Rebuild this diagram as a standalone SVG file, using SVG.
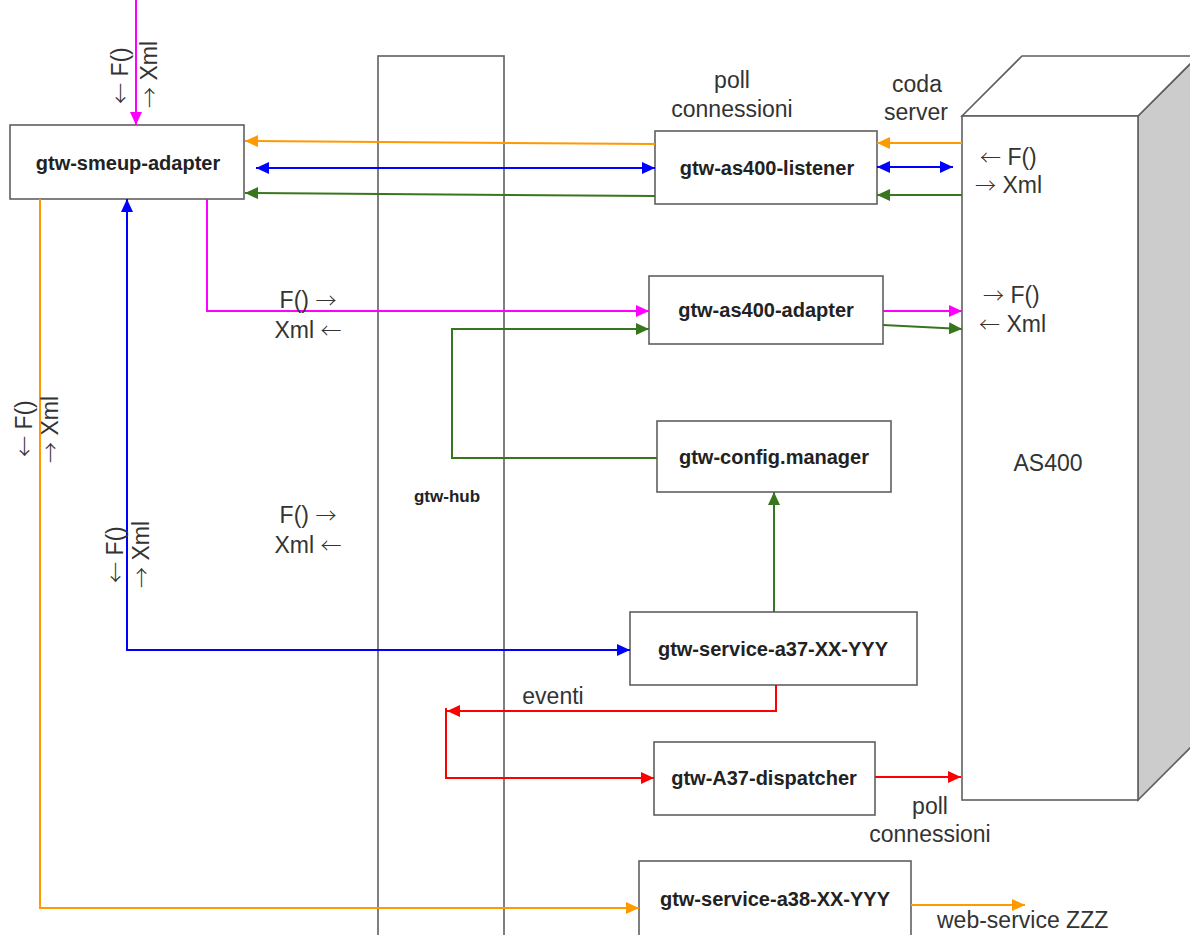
<svg xmlns="http://www.w3.org/2000/svg" width="1190" height="935" viewBox="0 0 1190 935">
<style>
.box{fill:#fff;stroke:#5f5f5f;stroke-width:1.6}
.nl{font-family:"Liberation Sans",Arial,sans-serif;font-weight:bold;font-size:20px;fill:#222;text-anchor:middle}
.lb{font-family:"Liberation Sans",Arial,sans-serif;font-size:23px;fill:#333}
.ar{font-family:"Noto Sans CJK SC","DejaVu Sans",sans-serif;font-weight:300;font-size:21px}
.c{fill:none;stroke-width:2}
.m{stroke:#ff00ff}.o{stroke:#ff9900}.b{stroke:#0000ff}.g{stroke:#38761d}.r{stroke:#ff0000}
</style>
<defs>
<marker id="am" markerUnits="userSpaceOnUse" markerWidth="14" markerHeight="12" refX="13" refY="6" orient="auto-start-reverse"><path d="M0,0 L13,6 L0,12 z" fill="#ff00ff"/></marker>
<marker id="ao" markerUnits="userSpaceOnUse" markerWidth="14" markerHeight="12" refX="13" refY="6" orient="auto-start-reverse"><path d="M0,0 L13,6 L0,12 z" fill="#ff9900"/></marker>
<marker id="ab" markerUnits="userSpaceOnUse" markerWidth="14" markerHeight="12" refX="13" refY="6" orient="auto-start-reverse"><path d="M0,0 L13,6 L0,12 z" fill="#0000ff"/></marker>
<marker id="ag" markerUnits="userSpaceOnUse" markerWidth="14" markerHeight="12" refX="13" refY="6" orient="auto-start-reverse"><path d="M0,0 L13,6 L0,12 z" fill="#38761d"/></marker>
<marker id="ar" markerUnits="userSpaceOnUse" markerWidth="14" markerHeight="12" refX="13" refY="6" orient="auto-start-reverse"><path d="M0,0 L13,6 L0,12 z" fill="#ff0000"/></marker>
</defs>
<rect width="1190" height="935" fill="#fff"/>

<g id="gtw-hub">
<rect class="box" x="378" y="56" width="126" height="900"/>
<text class="nl" x="447" y="502" style="font-size:17px">gtw-hub</text>
</g>

<g id="as400">
<polygon points="1138,116 1198,56 1198,740 1138,800" fill="#cccccc" stroke="#5f5f5f" stroke-width="1.6"/>
<polygon points="962,116 1022,56 1198,56 1138,116" fill="#fff" stroke="#5f5f5f" stroke-width="1.6"/>
<rect class="box" x="962" y="116" width="176" height="684"/>
<text class="lb" x="1048" y="471" text-anchor="middle">AS400</text>
</g>

<g id="gtw-smeup-adapter">
<rect class="box" x="10" y="125" width="234" height="74"/>
<text class="nl" x="128" y="170">gtw-smeup-adapter</text>
</g>
<g id="gtw-as400-listener">
<rect class="box" x="655" y="131" width="222" height="73"/>
<text class="nl" x="767" y="175">gtw-as400-listener</text>
</g>
<g id="gtw-as400-adapter">
<rect class="box" x="649" y="276" width="234" height="68"/>
<text class="nl" x="766" y="317">gtw-as400-adapter</text>
</g>
<g id="gtw-config-manager">
<rect class="box" x="657" y="421" width="234" height="71"/>
<text class="nl" x="774" y="464">gtw-config.manager</text>
</g>
<g id="gtw-service-a37">
<rect class="box" x="630" y="612" width="287" height="73"/>
<text class="nl" x="773" y="656">gtw-service-a37-XX-YYY</text>
</g>
<g id="gtw-A37-dispatcher">
<rect class="box" x="654" y="742" width="221" height="73"/>
<text class="nl" x="764" y="785">gtw-A37-dispatcher</text>
</g>
<g id="gtw-service-a38">
<rect class="box" x="639" y="861" width="272" height="90"/>
<text class="nl" x="775" y="906">gtw-service-a38-XX-YYY</text>
</g>

<g id="connectors">
<path class="c m" d="M136,0 V125" marker-end="url(#am)"/>
<path class="c m" d="M207,199 V311 H649" marker-end="url(#am)"/>
<path class="c m" d="M883,311 H962" marker-end="url(#am)"/>

<path class="c o" d="M655,144 L245,141" marker-end="url(#ao)"/>
<path class="c o" d="M962,143 H877" marker-end="url(#ao)"/>
<path class="c o" d="M40,199 V908 H639" marker-end="url(#ao)"/>
<path class="c o" d="M911,905 H1025" marker-end="url(#ao)"/>

<path class="c b" d="M256,168 H655" marker-start="url(#ab)" marker-end="url(#ab)"/>
<path class="c b" d="M877,167 H953" marker-start="url(#ab)" marker-end="url(#ab)"/>
<path class="c b" d="M127,199 V650 H630" marker-start="url(#ab)" marker-end="url(#ab)"/>

<path class="c g" d="M655,196 L245,193" marker-end="url(#ag)"/>
<path class="c g" d="M962,195 H877" marker-end="url(#ag)"/>
<path class="c g" d="M657,458 H452 V329 H649" marker-end="url(#ag)"/>
<path class="c g" d="M883,325 L962,329" marker-end="url(#ag)"/>
<path class="c g" d="M774,612 V492" marker-end="url(#ag)"/>

<path class="c r" d="M776,685 V711 H447" marker-end="url(#ar)"/>
<path class="c r" d="M446,708 V778 H654" marker-end="url(#ar)"/>
<path class="c r" d="M875,777 H961" marker-end="url(#ar)"/>
</g>

<g id="labels">
<text class="lb" x="732" y="88" text-anchor="middle">poll</text>
<text class="lb" x="732" y="117" text-anchor="middle">connessioni</text>
<text class="lb" x="917" y="92" text-anchor="middle">coda</text>
<text class="lb" x="916" y="120" text-anchor="middle">server</text>
<text class="lb" x="980" y="165"><tspan class="ar">←</tspan> F()</text>
<text class="lb" x="975" y="193"><tspan class="ar">→</tspan> Xml</text>
<text class="lb" x="983" y="303"><tspan class="ar">→</tspan> F()</text>
<text class="lb" x="979" y="332"><tspan class="ar">←</tspan> Xml</text>
<text class="lb" x="308" y="308" text-anchor="middle">F() <tspan class="ar">→</tspan></text>
<text class="lb" x="308" y="338" text-anchor="middle">Xml <tspan class="ar">←</tspan></text>
<text class="lb" x="308" y="523" text-anchor="middle">F() <tspan class="ar">→</tspan></text>
<text class="lb" x="308" y="553" text-anchor="middle">Xml <tspan class="ar">←</tspan></text>
<text class="lb" x="553" y="704" text-anchor="middle">eventi</text>
<text class="lb" x="930" y="814" text-anchor="middle">poll</text>
<text class="lb" x="930" y="842" text-anchor="middle">connessioni</text>
<text class="lb" x="937" y="928">web-service ZZZ</text>
<text class="lb" transform="translate(128,104) rotate(-90)"><tspan class="ar">←</tspan> F()</text>
<text class="lb" transform="translate(157,108) rotate(-90)"><tspan class="ar">→</tspan> Xml</text>
<text class="lb" transform="translate(32,457) rotate(-90)"><tspan class="ar">←</tspan> F()</text>
<text class="lb" transform="translate(58,463) rotate(-90)"><tspan class="ar">→</tspan> Xml</text>
<text class="lb" transform="translate(123,583) rotate(-90)"><tspan class="ar">←</tspan> F()</text>
<text class="lb" transform="translate(149,588) rotate(-90)"><tspan class="ar">→</tspan> Xml</text>
</g>
</svg>
